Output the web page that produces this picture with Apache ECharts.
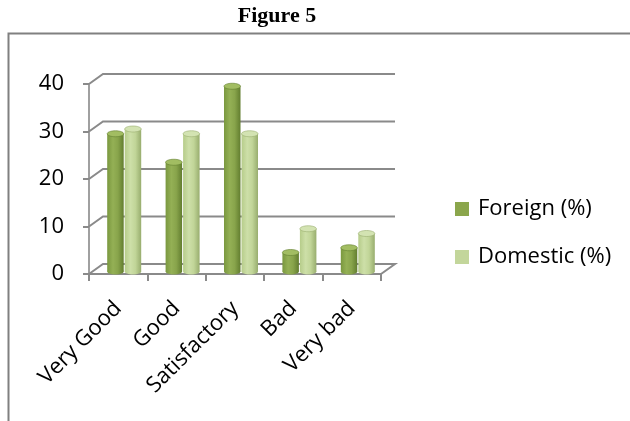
<!DOCTYPE html>
<html>
<head>
<meta charset="utf-8">
<script src="https://cdn.jsdelivr.net/npm/echarts@6/dist/echarts.min.js"></script>
<style>
  html, body { margin: 0; padding: 0; background: #ffffff; }
  #chart { width: 630px; height: 421px; }
</style>
</head>
<body>
<div id="chart"></div>
<script>
// Survey ratings, share of respondents in percent
const categories = ['Very Good', 'Good', 'Satisfactory', 'Bad', 'Very bad'];
const foreign = [29, 23, 39, 4, 5];
const domestic = [30, 29, 29, 9, 8];
const yTicks = [0, 10, 20, 30, 40];

const FONT = '"Open Sans", sans-serif';
const GRID_COLOR = '#8a8a8a';
// depth of the pseudo-3D box: back wall sits up and to the right of the front axes
const WALL_DX = 14, WALL_DY = -10;
// cylinders stand halfway into the box
const BAR_DX = 6, BAR_DY = -2.5;
const BAR_W = 16.5;

const chart = echarts.init(document.getElementById('chart'), null, { renderer: 'canvas' });

// Back wall gridlines plus the diagonal edges on the left wall and the floor
function renderFrame(params, api) {
  const v = api.value(0);
  const cs = params.coordSys;
  const y = api.coord([0, v])[1];
  const x0 = cs.x, x1 = cs.x + cs.width;
  const pts = [[x0, y], [x0 + WALL_DX, y + WALL_DY], [x1 + WALL_DX, y + WALL_DY]];
  if (v === 0) pts.push([x1, y]);
  return {
    type: 'polyline',
    shape: { points: pts },
    style: { stroke: GRID_COLOR, lineWidth: 2, fill: null },
    silent: true
  };
}

function cylinderRenderer(side, palette) {
  return function (params, api) {
    const idx = api.value(0);
    const top = api.coord([idx, api.value(1)]);
    const base = api.coord([idx, 0]);
    const cx = top[0] + BAR_DX;
    const x = side < 0 ? cx - BAR_W - 0.5 : cx + 0.5;
    const yTop = top[1] + BAR_DY;
    const yBase = base[1] + BAR_DY;
    const ry = 3;
    const body = new echarts.graphic.LinearGradient(0, 0, 1, 0, [
      { offset: 0, color: palette.edgeL },
      { offset: 0.35, color: palette.light },
      { offset: 0.65, color: palette.mid },
      { offset: 1, color: palette.edgeR }
    ]);
    return {
      type: 'group',
      children: [
        {
          type: 'ellipse',
          shape: { cx: x + BAR_W / 2, cy: yBase, rx: BAR_W / 2, ry: ry },
          style: { fill: body }
        },
        {
          type: 'rect',
          shape: { x: x, y: yTop, width: BAR_W, height: Math.max(0, yBase - yTop) },
          style: { fill: body }
        },
        {
          type: 'ellipse',
          shape: { cx: x + BAR_W / 2, cy: yTop, rx: BAR_W / 2, ry: ry },
          style: { fill: palette.cap, stroke: palette.edgeR, lineWidth: 0.6 }
        }
      ]
    };
  };
}

const foreignPalette = { edgeL: '#7a983f', light: '#94b055', mid: '#88a44b', edgeR: '#627d2f', cap: '#a2bd62' };
const domesticPalette = { edgeL: '#b6cc8a', light: '#cddfa8', mid: '#c1d598', edgeR: '#98ad6e', cap: '#d3e3b2' };

const option = {
  backgroundColor: '#ffffff',
  animation: false,
  title: {
    text: 'Figure 5',
    left: 272,
    textAlign: 'center',
    top: 0,
    textStyle: { fontFamily: '"Liberation Serif", serif', fontWeight: 'bold', fontSize: 22, color: '#000' }
  },
  graphic: [{
    type: 'rect',
    shape: { x: 8.5, y: 33.5, width: 700, height: 500 },
    style: { fill: null, stroke: '#808080', lineWidth: 2 },
    silent: true,
    z: -10
  }],
  legend: {
    orient: 'vertical',
    left: 450,
    top: 192,
    itemWidth: 14,
    itemHeight: 14,
    itemGap: 24,
    icon: 'rect',
    data: ['Foreign (%)', 'Domestic (%)'],
    textStyle: { fontFamily: FONT, fontSize: 22, color: '#000', lineHeight: 24, padding: [0, 0, 0, 4] }
  },
  grid: { left: 89, top: 84, width: 292, height: 190 },
  xAxis: {
    type: 'category',
    data: categories,
    axisLine: { lineStyle: { color: GRID_COLOR, width: 2 } },
    axisTick: { show: true, length: 7, lineStyle: { color: GRID_COLOR, width: 2 } },
    axisLabel: {
      rotate: 45,
      margin: 31,
      interval: 0,
      fontFamily: FONT,
      fontSize: 22,
      color: '#000'
    }
  },
  yAxis: {
    type: 'value',
    min: 0,
    max: 40,
    interval: 10,
    axisLine: { show: true, lineStyle: { color: '#a0a0a0', width: 2 } },
    axisTick: { show: true, length: 6, lineStyle: { color: GRID_COLOR, width: 2 } },
    splitLine: { show: false },
    axisLabel: { margin: 25, fontFamily: FONT, fontSize: 22, color: '#000' }
  },
  series: [
    {
      type: 'custom',
      name: 'frame',
      renderItem: renderFrame,
      data: yTicks.map(v => [v]),
      encode: { y: 0 },
      silent: true,
      z: 1
    },
    {
      type: 'custom',
      name: 'Foreign (%)',
      itemStyle: { color: '#8ba64c' },
      renderItem: cylinderRenderer(-1, foreignPalette),
      data: foreign.map((v, i) => [i, v]),
      encode: { x: 0, y: 1 },
      z: 3
    },
    {
      type: 'custom',
      name: 'Domestic (%)',
      itemStyle: { color: '#c3d69b' },
      renderItem: cylinderRenderer(1, domesticPalette),
      data: domestic.map((v, i) => [i, v]),
      encode: { x: 0, y: 1 },
      z: 3
    }
  ]
};

chart.setOption(option);
</script>
</body>
</html>
